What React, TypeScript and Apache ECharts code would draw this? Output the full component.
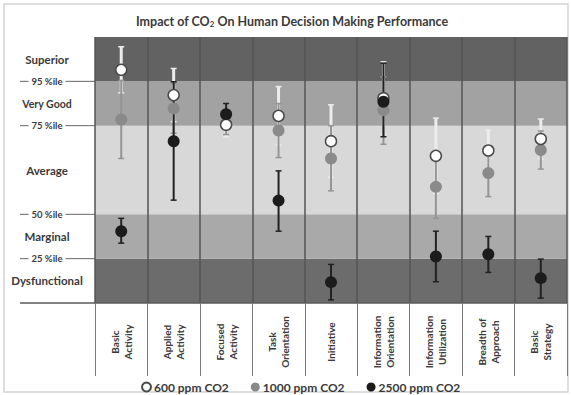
import React, { useEffect, useRef } from "react";
import * as echarts from "echarts";

const categories = [
  "Basic\nActivity",
  "Applied\nActivity",
  "Focused\nActivity",
  "Task\nOrientation",
  "Initiative",
  "Information\nOrientation",
  "Information\nUtilization",
  "Breadth of\nApproach",
  "Basic\nStrategy",
];

// performance scale: 0-1 Dysfunctional, 1-2 Marginal, 2-4 Average, 4-5 Very Good, 5-6 Superior
const bandNames = ["Dysfunctional", "Marginal", "Average", "Very Good", "Superior"];
const bandCenters = [0.5, 1.5, 3, 4.5, 5.5];
const percentileValues = [1, 2, 4, 5];
const percentileTexts = ["25 %ile", "50 %ile", "75 %ile", "95 %ile"];

const seriesNames = ["600 ppm CO2", "1000 ppm CO2", "2500 ppm CO2"];

const ppm600 = [5.26, 4.69, 4.02, 4.22, 3.65, 4.62, 3.32, 3.44, 3.7];
const ppm600High = [5.78, 5.29, 4.3, 4.88, 4.47, 5.44, 4.17, 3.9, 4.15];
const ppm600Low = [4.74, 4.09, 3.75, 3.56, 2.83, 3.8, 2.47, 2.98, 3.25];

const ppm1000 = [4.14, 4.39, 4.05, 3.89, 3.26, 4.35, 2.62, 2.93, 3.45];
const ppm1000High = [5.02, 4.95, 4.3, 4.5, 4.0, 5.1, 3.33, 3.46, 3.88];
const ppm1000Low = [3.26, 3.83, 3.8, 3.28, 2.53, 3.58, 1.91, 2.4, 3.02];

const ppm2500 = [1.62, 3.65, 4.26, 2.31, 0.47, 4.54, 1.05, 1.1, 0.56];
const ppm2500High = [1.91, 4.99, 4.5, 2.98, 0.87, 5.41, 1.62, 1.5, 0.99];
const ppm2500Low = [1.35, 2.32, 4.02, 1.62, 0.07, 3.75, 0.48, 0.69, 0.11];

const FONT = "Lato, 'Open Sans', sans-serif";

function errorSeries(name: string, low: number[], high: number[], color: string, width: number, z: number) {
  return {
    type: "custom",
    name,
    z,
    silent: true,
    renderItem: (params: any, api: any) => {
      const i = api.value(0);
      const lo = api.coord([i, api.value(1)]);
      const hi = api.coord([i, api.value(2)]);
      const cap = 3;
      return {
        type: "group",
        children: [
          { type: "line", shape: { x1: lo[0], y1: lo[1], x2: hi[0], y2: hi[1] }, style: { stroke: color, lineWidth: width } },
          { type: "line", shape: { x1: lo[0] - cap, y1: lo[1], x2: lo[0] + cap, y2: lo[1] }, style: { stroke: color, lineWidth: 1.5 } },
          { type: "line", shape: { x1: hi[0] - cap, y1: hi[1], x2: hi[0] + cap, y2: hi[1] }, style: { stroke: color, lineWidth: 1.5 } },
        ],
      };
    },
    encode: { x: 0, y: [1, 2] },
    data: categories.map((_, i) => [i, low[i], high[i]]),
  };
}

export default function App() {
  const ref = useRef<HTMLDivElement>(null);
  useEffect(() => {
    document.body.style.margin = "0";
    const chart = echarts.init(ref.current!, null, { renderer: "svg" });
    const option: any = {
      animation: false,
      backgroundColor: "#ffffff",
      title: {
        text: "Impact of CO{sub|2} On Human Decision Making Performance",
        left: 287,
        textAlign: "center",
        top: 9,
        textStyle: {
          fontFamily: FONT,
          fontSize: 12.5,
          fontWeight: "bold",
          color: "#3a3a3a",
          rich: {
            sub: { fontFamily: FONT, fontSize: 8, fontWeight: "bold", color: "#3a3a3a", verticalAlign: "bottom", padding: [6, 0, 0, 0] },
          },
        },
      },
      legend: {
        data: seriesNames,
        left: 136,
        top: 376,
        itemWidth: 9,
        itemHeight: 9,
        itemGap: 22,
        icon: "circle",
        textStyle: { fontFamily: FONT, fontSize: 12, fontWeight: "bold", color: "#3a3a3a", padding: [0, 0, 0, -2] },
      },
      grid: { left: 95, top: 37, width: 472, height: 266, containLabel: false },
      xAxis: {
        type: "category",
        data: categories,
        boundaryGap: true,
        z: 1,
        axisLine: { show: true, lineStyle: { color: "#5a5a5a", width: 1.5 } },
        axisTick: { show: true, length: 73, lineStyle: { color: "#7a7a7a", width: 1 } },
        splitLine: { show: true, lineStyle: { color: "#555555", width: 1.5 } },
        axisLabel: {
          interval: 0,
          rotate: 90,
          margin: 39,
          align: "center",
          verticalAlign: "middle",
          lineHeight: 13,
          fontFamily: FONT,
          fontSize: 10,
          fontWeight: "bold",
          color: "#3a3a3a",
        },
      },
      yAxis: {
        type: "value",
        min: 0,
        max: 6,
        interval: 1,
        z: 0,
        axisLine: { show: false },
        axisTick: { show: false },
        axisLabel: { show: false },
        splitLine: { show: false },
        splitArea: {
          show: true,
          areaStyle: { color: ["#6c6c6c", "#a9a9a9", "#d8d8d8", "#d8d8d8", "#a2a2a2", "#626262"] },
        },
      },
      series: [
        errorSeries("e600", ppm600Low, ppm600High, "#ececec", 3, 3),
        errorSeries("e1000", ppm1000Low, ppm1000High, "#959595", 2, 4),
        errorSeries("e2500", ppm2500Low, ppm2500High, "#222222", 2, 5),
        {
          type: "scatter",
          name: seriesNames[1],
          data: ppm1000,
          z: 6,
          symbol: "circle",
          symbolSize: 12,
          itemStyle: { color: "#8a8a8a", opacity: 1 },
        },
        {
          type: "scatter",
          name: seriesNames[0],
          data: ppm600,
          z: 7,
          symbol: "circle",
          symbolSize: 11,
          itemStyle: { color: "#ffffff", borderColor: "#4a4a4a", borderWidth: 1.5, opacity: 1 },
        },
        {
          type: "scatter",
          name: seriesNames[2],
          data: ppm2500,
          z: 8,
          symbol: "circle",
          symbolSize: 12,
          itemStyle: { color: "#1c1c1c", opacity: 1 },
        },
      ],
    };
    chart.setOption(option);

    const yPix = (v: number) => chart.convertToPixel({ yAxisIndex: 0 }, v) as number;
    const y0 = yPix(0);
    const labelX = 47;
    const graphics: any[] = [];
    graphics.push({
      type: "rect",
      shape: { x: 4, y: 4, width: 564, height: 388 },
      style: { fill: "none", stroke: "#d4d4d4", lineWidth: 1.5 },
      silent: true,
    });
    graphics.push({
      type: "line",
      shape: { x1: 20, y1: y0, x2: 95, y2: y0 },
      style: { stroke: "#5a5a5a", lineWidth: 1.5 },
    });
    percentileValues.forEach((v, i) => {
      const y = yPix(v);
      graphics.push({ type: "line", shape: { x1: 20, y1: y, x2: 95, y2: y }, style: { stroke: "#666666", lineWidth: 1 } });
      graphics.push({
        type: "text",
        x: labelX,
        y,
        z: 10,
        style: {
          text: percentileTexts[i],
          align: "center",
          verticalAlign: "middle",
          fontFamily: FONT,
          fontSize: 9.5,
          fontWeight: "bold",
          fill: "#3a3a3a",
          backgroundColor: "#ffffff",
          padding: [0, 3],
        },
      });
    });
    bandNames.forEach((name, i) => {
      graphics.push({
        type: "text",
        x: labelX,
        y: yPix(bandCenters[i]),
        style: {
          text: name,
          align: "center",
          verticalAlign: "middle",
          fontFamily: FONT,
          fontSize: name === "Very Good" ? 10.5 : 11.5,
          fontWeight: "bold",
          fill: "#3a3a3a",
        },
      });
    });
    chart.setOption({ graphic: graphics });
    return () => chart.dispose();
  }, []);
  return <div ref={ref} style={{ width: 571, height: 395, position: "fixed", left: 0, top: 0 }} />;
}
